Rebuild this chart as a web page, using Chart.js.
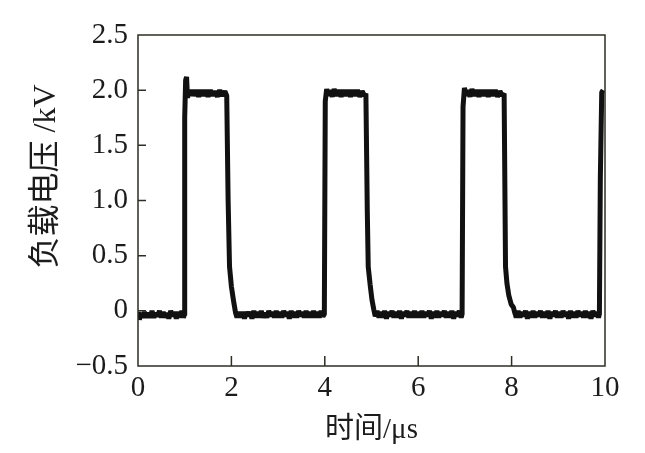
<!DOCTYPE html>
<html>
<head>
<meta charset="utf-8">
<script src="https://cdn.jsdelivr.net/npm/chart.js@4/dist/chart.umd.min.js"></script>
<style>
	html, body { margin: 0; padding: 0; background: #fff; }
	#wrap { width: 645px; height: 453px; }
</style>
</head>
<body>
<div id="wrap"><canvas id="pulseChart" width="645" height="453"></canvas></div>
<script>
// oscilloscope trace, time in us, load voltage in kV
var timeUs = [
	0.00, 0.03, 0.06, 0.10, 0.14, 0.18, 0.22, 0.26, 0.30, 0.34, 0.38, 0.42, 0.46, 0.50, 0.54, 0.58, 0.62, 0.66, 0.70, 0.74, 0.78, 0.82, 0.86, 0.90, 0.94, 0.97,
	0.99, 1.00, 1.02, 1.04, 1.06, 1.08, 1.12, 1.16, 1.20, 1.25, 1.30, 1.35, 1.40, 1.45, 1.50, 1.55, 1.60, 1.65, 1.70, 1.75, 1.80, 1.86, 1.90,
	1.93, 1.96, 2.00, 2.05, 2.09,
	2.12, 2.16, 2.20, 2.24, 2.28, 2.32, 2.36, 2.40, 2.44, 2.48, 2.52, 2.56, 2.60, 2.64, 2.68, 2.72, 2.76, 2.80, 2.84, 2.88, 2.92, 2.96, 3.00,
	3.04, 3.08, 3.12, 3.16, 3.20, 3.24, 3.28, 3.32, 3.36, 3.40, 3.44, 3.48, 3.52, 3.56, 3.60, 3.64, 3.68, 3.72, 3.76, 3.80, 3.84, 3.88, 3.92, 3.96,
	3.99, 4.01, 4.04, 4.08, 4.12, 4.16, 4.20, 4.25, 4.30, 4.35, 4.40, 4.45, 4.50, 4.55, 4.60, 4.65, 4.70, 4.75, 4.80, 4.85, 4.88,
	4.91, 4.93, 4.97, 5.01, 5.05,
	5.08, 5.12, 5.16, 5.20, 5.24, 5.28, 5.32, 5.36, 5.40, 5.44, 5.48, 5.52, 5.56, 5.60, 5.64, 5.68, 5.72, 5.76, 5.80, 5.84, 5.88, 5.92, 5.96, 6.00,
	6.04, 6.08, 6.12, 6.16, 6.20, 6.24, 6.28, 6.32, 6.36, 6.40, 6.44, 6.48, 6.52, 6.56, 6.60, 6.64, 6.68, 6.72, 6.76, 6.80, 6.84, 6.88, 6.92,
	6.94, 6.96, 6.99, 7.03, 7.07, 7.11, 7.15, 7.20, 7.25, 7.30, 7.35, 7.40, 7.45, 7.50, 7.55, 7.60, 7.65, 7.70, 7.75, 7.80, 7.84,
	7.87, 7.90, 7.94, 7.99, 8.04, 8.07,
	8.10, 8.14, 8.18, 8.22, 8.26, 8.30, 8.34, 8.38, 8.42, 8.46, 8.50, 8.54, 8.58, 8.62, 8.66, 8.70, 8.74, 8.78, 8.82, 8.86, 8.90, 8.94, 8.98,
	9.02, 9.06, 9.10, 9.14, 9.18, 9.22, 9.26, 9.30, 9.34, 9.38, 9.42, 9.46, 9.50, 9.54, 9.58, 9.62, 9.66, 9.70, 9.74, 9.78, 9.82, 9.86,
	9.88, 9.90, 9.93, 9.96
];
var loadKv = [
	-0.01, -0.08, -0.02, -0.06, -0.01, -0.06, -0.02, -0.06, 0.00, -0.06, -0.02, -0.05, 0.00, -0.06, -0.01, -0.06, -0.02, -0.07, 0.00, -0.05, -0.01, -0.07, -0.01, -0.06, 0.00, -0.06,
	-0.04, 1.75, 2.09, 2.12, 1.93, 2.00, 1.95, 2.00, 1.95, 2.00, 1.94, 2.00, 1.95, 2.00, 1.94, 2.00, 1.95, 1.99, 1.94, 2.00, 1.95, 1.99, 1.95,
	1.00, 0.40, 0.22, 0.08, -0.02,
	-0.06, -0.01, -0.06, -0.01, -0.07, -0.01, -0.05, -0.01, -0.07, 0.00, -0.06, -0.01, -0.06, 0.00, -0.06, -0.02, -0.06, 0.00, -0.05, -0.01, -0.06, 0.00, -0.06,
	-0.01, -0.06, 0.00, -0.05, -0.01, -0.07, 0.00, -0.06, -0.01, -0.06, 0.00, -0.05, -0.01, -0.06, 0.00, -0.06, -0.01, -0.06, 0.00, -0.06, -0.01, -0.06, 0.00, -0.05,
	-0.03, 1.90, 2.01, 1.95, 2.00, 1.94, 2.01, 1.95, 2.00, 1.94, 2.00, 1.95, 2.00, 1.94, 2.00, 1.95, 2.00, 1.94, 1.99, 1.95, 1.97,
	0.90, 0.40, 0.24, 0.10, 0.01,
	-0.05, 0.00, -0.06, -0.01, -0.06, 0.00, -0.07, -0.01, -0.05, 0.00, -0.06, -0.01, -0.06, 0.00, -0.07, -0.01, -0.05, 0.00, -0.06, -0.01, -0.06, 0.00, -0.06, -0.01,
	-0.06, 0.00, -0.06, -0.01, -0.05, 0.00, -0.07, -0.01, -0.06, 0.00, -0.06, -0.01, -0.05, 0.00, -0.06, -0.01, -0.06, 0.00, -0.07, -0.01, -0.05, 0.00, -0.06,
	-0.03, 1.85, 2.02, 1.95, 2.00, 1.94, 2.01, 1.95, 2.00, 1.94, 2.00, 1.95, 2.00, 1.94, 2.00, 1.95, 2.00, 1.94, 1.99, 1.95, 1.97,
	0.40, 0.25, 0.14, 0.06, 0.03, -0.02,
	-0.06, 0.00, -0.06, -0.01, -0.05, 0.00, -0.07, -0.01, -0.06, 0.00, -0.06, -0.01, -0.05, 0.00, -0.06, -0.01, -0.06, 0.00, -0.07, -0.01, -0.05, 0.00, -0.06,
	-0.01, -0.06, 0.00, -0.05, -0.01, -0.07, 0.00, -0.06, -0.01, -0.06, 0.00, -0.05, -0.01, -0.06, 0.00, -0.06, -0.01, -0.07, 0.00, -0.05, -0.01, -0.06,
	-0.03, 1.20, 1.98, 2.00
];
var xTicks = [0, 2, 4, 6, 8, 10];
var yTicks = [-0.5, 0, 0.5, 1.0, 1.5, 2.0, 2.5];
var yTickText = ['\u22120.5', '0', '0.5', '1.0', '1.5', '2.0', '2.5'];
var xInnerTicks = [2, 4, 6, 8];
var yInnerTicks = [0, 0.5, 1.0, 1.5, 2.0];

var points = [];
for (var i = 0; i < timeUs.length; i++) {
	points.push({ x: timeUs[i], y: loadKv[i] });
}

var serif = '"Liberation Serif", "Noto Sans CJK SC", serif';
var inkColor = '#1c1c1c';
var frameColor = '#2e2e26';

// box frame and inward tick marks, placed through the chart scales
var framePlugin = {
	id: 'frame',
	afterDraw: function (chart) {
		var c = chart.ctx;
		var a = chart.chartArea;
		var xs = chart.scales.x;
		var ys = chart.scales.y;
		c.save();
		c.strokeStyle = frameColor;
		c.lineWidth = 1.5;
		c.strokeRect(a.left, a.top, a.right - a.left, a.bottom - a.top);
		c.beginPath();
		yInnerTicks.forEach(function (v) {
			var py = ys.getPixelForValue(v);
			c.moveTo(a.left, py);
			c.lineTo(a.left + 8, py);
		});
		xInnerTicks.forEach(function (v) {
			var px = xs.getPixelForValue(v);
			c.moveTo(px, a.bottom);
			c.lineTo(px, a.bottom - 10);
		});
		c.stroke();
		c.restore();
	}
};

var ctx = document.getElementById('pulseChart').getContext('2d');
var myChart = new Chart(ctx, {
	type: 'line',
	data: {
		datasets: [{
			label: '负载电压',
			data: points,
			borderColor: '#111',
			borderWidth: 5,
			borderJoinStyle: 'bevel',
			pointRadius: 0,
			tension: 0,
			fill: false
		}]
	},
	options: {
		responsive: false,
		animation: false,
		layout: {
			padding: { top: 35, right: 40, left: 0, bottom: 0 }
		},
		scales: {
			x: {
				type: 'linear',
				min: 0,
				max: 10,
				afterFit: function (scale) { scale.height = 87; },
				afterBuildTicks: function (scale) {
					scale.ticks = xTicks.map(function (v) { return { value: v }; });
				},
				grid: { display: false, drawTicks: false },
				border: { display: false },
				ticks: {
					color: inkColor,
					padding: 5,
					maxRotation: 0,
					font: { family: serif, size: 29 }
				},
				title: {
					display: true,
					text: '时间/μs',
					color: inkColor,
					padding: { top: 0, bottom: 5 },
					font: { family: serif, size: 29 }
				}
			},
			y: {
				min: -0.5,
				max: 2.5,
				afterFit: function (scale) { scale.width = 138; },
				afterBuildTicks: function (scale) {
					scale.ticks = yTicks.map(function (v) { return { value: v }; });
				},
				grid: { display: false, drawTicks: false },
				border: { display: false },
				ticks: {
					color: inkColor,
					padding: 10,
					font: { family: serif, size: 29 },
					callback: function (value) {
						var k = yTicks.indexOf(value);
						return k >= 0 ? yTickText[k] : '';
					}
				},
				title: {
					display: true,
					text: '\u3000\u2002负载电压 /kV',
					color: inkColor,
					padding: { top: 27, bottom: 0 },
					font: { family: serif, size: 32 }
				}
			}
		},
		plugins: {
			legend: { display: false },
			tooltip: { enabled: false }
		}
	},
	plugins: [framePlugin]
});
</script>
</body>
</html>
